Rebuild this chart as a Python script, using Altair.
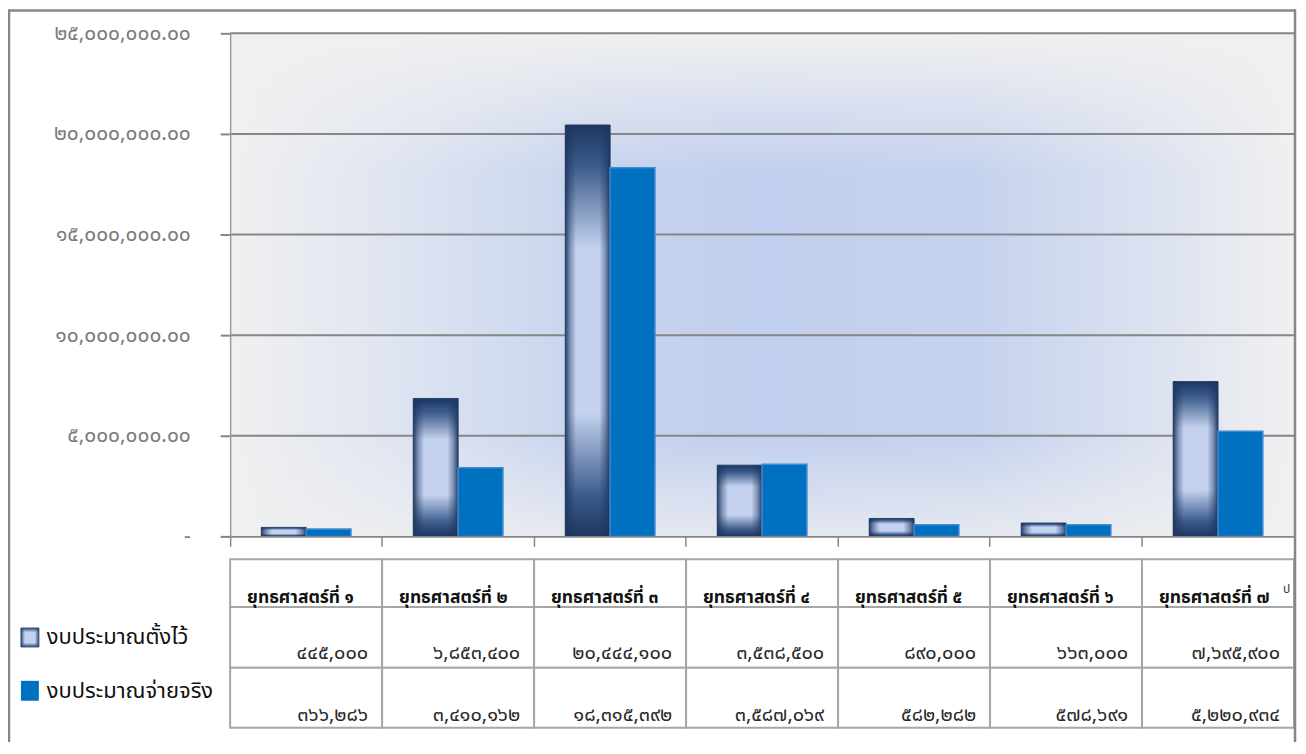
import altair as alt
import pandas as pd

# ---------------- data ----------------
categories = ["ยุทธศาสตร์ที่ ๑", "ยุทธศาสตร์ที่ ๒", "ยุทธศาสตร์ที่ ๓", "ยุทธศาสตร์ที่ ๔",
              "ยุทธศาสตร์ที่ ๕", "ยุทธศาสตร์ที่ ๖", "ยุทธศาสตร์ที่ ๗"]
series_names = ["งบประมาณตั้งไว้", "งบประมาณจ่ายจริง"]
budget = [445000, 6853400, 20444100, 3538500, 890000, 663000, 7695900]
actual = [366286, 3410162, 18315392, 3587069, 582282, 578691, 5220934]
y_ticks = [0, 5000000, 10000000, 15000000, 20000000, 25000000]

TH = str.maketrans("0123456789", "๐๑๒๓๔๕๖๗๘๙")


def th(s):
    return s.translate(TH)


y_labels = ["-"] + [th(f"{v:,.2f}") for v in y_ticks[1:]]

rows = []
for c, b, a in zip(categories, budget, actual):
    rows.append(dict(cat=c, series=series_names[0], value=b, label=th(f"{b:,}")))
    rows.append(dict(cat=c, series=series_names[1], value=a, label=th(f"{a:,}")))
df = pd.DataFrame(rows)
cat_df = pd.DataFrame({"cat": categories})
grid_df = pd.DataFrame({"t": y_ticks[1:]})
one = pd.DataFrame({"k": [0]})

# ---------------- layout ----------------
W, H = 1068, 505
FONT = "Tahoma, 'Noto Sans Thai', 'Noto Sans', sans-serif"
GRID = "#868686"
NAVY = "#1d3660"
LIGHT = "#c4d2ef"
BLUE = "#0070c0"

x_scale = alt.Scale(domain=categories, paddingInner=0, paddingOuter=0)
xo_scale = alt.Scale(domain=series_names, paddingInner=0, paddingOuter=0.695)
y_scale = alt.Scale(domain=[0, 25000000], nice=False)

label_expr = " : ".join(f"datum.value == {v} ? '{l}'" for v, l in zip(y_ticks, y_labels)) + " : ''"

x_axis = alt.Axis(labels=False, title=None, bandPosition=0, tickSize=10, tickWidth=1.5,
                  tickColor=GRID, domainColor=GRID, domainWidth=2, grid=False, zindex=1)
y_axis = alt.Axis(values=y_ticks, labelExpr=label_expr, title=None, grid=False,
                  tickSize=10, tickWidth=2, tickColor=GRID, domainColor="#9a9a9a",
                  domainWidth=1.5, labelColor="#7c7c7c", labelFontSize=21,
                  labelFont=FONT, labelPadding=30, zindex=1)

x_enc = alt.X("cat:N", scale=x_scale, axis=x_axis, sort=categories)
xo_enc = alt.XOffset("series:N", scale=xo_scale, sort=series_names)
y_enc = alt.Y("value:Q", scale=y_scale, axis=y_axis)

# ---------------- background ----------------
bg_h = {"gradient": "linear", "x1": 0, "y1": 0, "x2": 1, "y2": 0,
        "stops": [{"offset": 0, "color": "#f0f0f0"},
                  {"offset": 0.15, "color": "#dfe5f1"},
                  {"offset": 0.35, "color": "#c6d3ee"},
                  {"offset": 0.5, "color": "#c1cfee"},
                  {"offset": 0.7, "color": "#c5d2ee"},
                  {"offset": 0.88, "color": "#dde3f0"},
                  {"offset": 1, "color": "#f0f0f0"}]}
bg_v = {"gradient": "linear", "x1": 0, "y1": 0, "x2": 0, "y2": 1,
        "stops": [{"offset": 0, "color": "rgba(240,240,240,1)"},
                  {"offset": 0.28, "color": "rgba(240,240,240,0)"},
                  {"offset": 0.8, "color": "rgba(240,240,240,0)"},
                  {"offset": 1, "color": "rgba(240,240,240,0.75)"}]}

back_h = alt.Chart(one).mark_rect(color=bg_h).encode(
    x=alt.value(0), x2=alt.value(W), y=alt.value(0), y2=alt.value(H))
back_v = alt.Chart(one).mark_rect(color=bg_v).encode(
    x=alt.value(0), x2=alt.value(W), y=alt.value(0), y2=alt.value(H))

grid = alt.Chart(grid_df).mark_rule(color=GRID, strokeWidth=2).encode(
    y=alt.Y("t:Q", scale=y_scale, axis=y_axis), x=alt.value(0), x2=alt.value(W))

outer = alt.Chart(one).mark_rect(fill=None, stroke="#878787", strokeWidth=2.5).encode(
    x=alt.value(-222), x2=alt.value(W + 1), y=alt.value(-23), y2=alt.value(H + 260))

# ---------------- bars ----------------
bar_v = {"gradient": "linear", "x1": 0, "y1": 0, "x2": 0, "y2": 1,
         "stops": [{"offset": 0, "color": NAVY},
                   {"offset": 0.1, "color": "#3d5c8c"},
                   {"offset": 0.3, "color": LIGHT},
                   {"offset": 0.7, "color": LIGHT},
                   {"offset": 0.9, "color": "#3d5c8c"},
                   {"offset": 1, "color": NAVY}]}
bar_h = {"gradient": "linear", "x1": 0, "y1": 0, "x2": 1, "y2": 0,
         "stops": [{"offset": 0, "color": "rgba(29,54,96,0.95)"},
                   {"offset": 0.1, "color": "rgba(29,54,96,0.45)"},
                   {"offset": 0.24, "color": "rgba(29,54,96,0)"},
                   {"offset": 0.76, "color": "rgba(29,54,96,0)"},
                   {"offset": 0.9, "color": "rgba(29,54,96,0.45)"},
                   {"offset": 1, "color": "rgba(29,54,96,0.95)"}]}

base = alt.Chart(df).encode(x=x_enc, xOffset=xo_enc, y=y_enc)
budget_v = base.transform_filter(alt.datum.series == series_names[0]).mark_bar(
    color=bar_v, stroke="#2a4470", strokeWidth=1)
budget_h = base.transform_filter(alt.datum.series == series_names[0]).mark_bar(
    color=bar_h)
actual_bar = base.transform_filter(alt.datum.series == series_names[1]).mark_bar(
    color=BLUE, stroke="#3f8ad0", strokeWidth=1.5)

# ---------------- data table ----------------
row_edges = [528, 576, 637, 697]   # header, budget row, actual row (pixels below plot top)
CELL = "#a6a6a6"


def cells(top, bottom):
    return alt.Chart(cat_df).mark_rect(fill="white", stroke=CELL, strokeWidth=2).encode(
        x=x_enc, y=alt.value(top), y2=alt.value(bottom))


table_cells = [cells(row_edges[i], row_edges[i + 1]) for i in range(3)]

header_text = alt.Chart(cat_df).mark_text(
    align="left", baseline="alphabetic", dx=17, font=FONT, fontSize=17.5,
    fontWeight="bold", color="#111111").encode(
    x=alt.X("cat:N", scale=x_scale, axis=x_axis, sort=categories, bandPosition=0),
    y=alt.value(572), text="cat:N")


def value_text(series, ypix):
    return alt.Chart(df).transform_filter(alt.datum.series == series).mark_text(
        align="right", baseline="alphabetic", dx=-14, font=FONT, fontSize=20,
        color="#2a2a2a").encode(
        x=alt.X("cat:N", scale=x_scale, axis=x_axis, sort=categories, bandPosition=1),
        y=alt.value(ypix), text="label:N")


vals1 = value_text(series_names[0], 628)
vals2 = value_text(series_names[1], 690)

# ---------------- legend ----------------
leg_v = {"gradient": "linear", "x1": 0, "y1": 0, "x2": 0, "y2": 1,
         "stops": [{"offset": 0, "color": "#2a4673"},
                   {"offset": 0.22, "color": LIGHT},
                   {"offset": 0.78, "color": LIGHT},
                   {"offset": 1, "color": "#2a4673"}]}
leg_h = {"gradient": "linear", "x1": 0, "y1": 0, "x2": 1, "y2": 0,
         "stops": [{"offset": 0, "color": "rgba(42,70,115,0.95)"},
                   {"offset": 0.22, "color": "rgba(42,70,115,0)"},
                   {"offset": 0.78, "color": "rgba(42,70,115,0)"},
                   {"offset": 1, "color": "rgba(42,70,115,0.95)"}]}
leg_df1 = pd.DataFrame({"name": [series_names[0]]})
leg_df2 = pd.DataFrame({"name": [series_names[1]]})
leg_sq1a = alt.Chart(leg_df1).mark_rect(color=leg_v, stroke="#3a5480", strokeWidth=1).encode(
    x=alt.value(-210), x2=alt.value(-192), y=alt.value(597), y2=alt.value(616))
leg_sq1b = alt.Chart(leg_df1).mark_rect(color=leg_h).encode(
    x=alt.value(-210), x2=alt.value(-192), y=alt.value(597), y2=alt.value(616))
leg_sq2 = alt.Chart(leg_df2).mark_rect(color=BLUE).encode(
    x=alt.value(-210), x2=alt.value(-192), y=alt.value(650), y2=alt.value(670))
leg_t1 = alt.Chart(leg_df1).mark_text(align="left", baseline="alphabetic", font=FONT,
                                      fontSize=22, color="#111111").encode(
    x=alt.value(-184), y=alt.value(613), text="name:N")
leg_t2 = alt.Chart(leg_df2).mark_text(align="left", baseline="alphabetic", font=FONT,
                                      fontSize=22, color="#111111").encode(
    x=alt.value(-184), y=alt.value(667), text="name:N")

stray = alt.Chart(pd.DataFrame({"s": ["ป"]})).mark_text(
    align="left", baseline="alphabetic", font=FONT, fontSize=12, color="#333333").encode(
    x=alt.value(1057), y=alt.value(562), text="s:N")

chart = alt.layer(
    back_h, back_v, grid, budget_v, budget_h, actual_bar,
    *table_cells, header_text, vals1, vals2,
    leg_sq1a, leg_sq1b, leg_sq2, leg_t1, leg_t2, stray, outer
).properties(
    width=W, height=H,
    padding={"left": 223, "top": 24, "right": 4, "bottom": 205},
    autosize=alt.AutoSizeParams(type="none"),
    background="white",
).configure_view(stroke=None)

chart.save("out.html", embed_options={"renderer": "svg", "actions": False})
